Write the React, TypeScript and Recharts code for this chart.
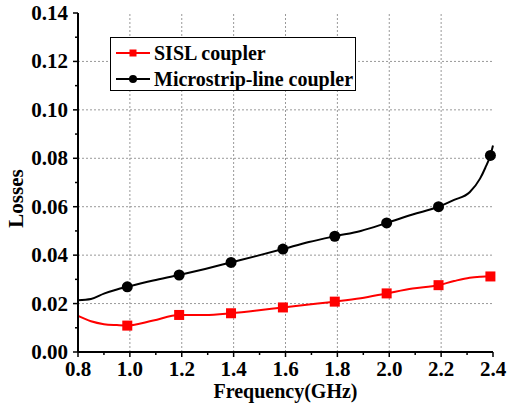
import React from 'react';
import { LineChart, Line, XAxis, YAxis, ReferenceLine } from 'recharts';

// curve sample points (GHz)
const freq = [0.8, 0.85, 0.9, 0.95, 0.99, 1.09, 1.19, 1.29, 1.39, 1.49, 1.59, 1.69, 1.79, 1.89, 1.99, 2.09, 2.19, 2.25, 2.31, 2.35, 2.37, 2.39, 2.4];
const sislLoss = [0.0149, 0.0127, 0.0115, 0.0111, 0.0109, 0.0130, 0.0153, 0.0153, 0.0160, 0.0171, 0.0184, 0.0196, 0.0208, 0.0222, 0.0242, 0.0262, 0.0276, 0.0293, 0.0307, 0.0311, 0.0312, 0.0312, 0.0312];
const microLoss = [0.0214, 0.0219, 0.0241, 0.0258, 0.0269, 0.0295, 0.0318, 0.0343, 0.0370, 0.0397, 0.0425, 0.0454, 0.0478, 0.0500, 0.0533, 0.0568, 0.0600, 0.0628, 0.0660, 0.0716, 0.0760, 0.0812, 0.0853];
const markerFreqs = [0.99, 1.19, 1.39, 1.59, 1.79, 1.99, 2.19, 2.39];

const xTicks = [0.8, 1.0, 1.2, 1.4, 1.6, 1.8, 2.0, 2.2, 2.4];
const xMinorTicks = [0.9, 1.1, 1.3, 1.5, 1.7, 1.9, 2.1, 2.3];
const yTicks = [0, 0.02, 0.04, 0.06, 0.08, 0.1, 0.12, 0.14];
const yMinorTicks = [0.01, 0.03, 0.05, 0.07, 0.09, 0.11, 0.13];

const data = freq.map((f, i) => ({ freq: f, sisl: sislLoss[i], micro: microLoss[i] }));
const xAll = [...xTicks, ...xMinorTicks].sort((a, b) => a - b);
const yAll = [...yTicks, ...yMinorTicks].sort((a, b) => a - b);

const FONT = '"Liberation Serif", "Times New Roman", serif';
const RED = '#ff0000';
const textStyle = { fontFamily: FONT, fontWeight: 'bold' as const };

const BottomTick = (props: any) => {
  const { x, y, payload } = props;
  const major = xTicks.includes(payload.value);
  return (
    <g>
      <line x1={x} x2={x} y1={y} y2={y + (major ? 5 : 3)} stroke="#000" strokeWidth={1.5} />
      {major && (
        <text x={x} y={y + 17} textAnchor="middle" dominantBaseline="central"
          style={textStyle} fontSize={21} fill="#000">
          {payload.value.toFixed(1)}
        </text>
      )}
    </g>
  );
};

const TopTick = (props: any) => {
  const { x, y, payload } = props;
  const major = xTicks.includes(payload.value);
  return <line x1={x} x2={x} y1={y} y2={y + (major ? 5 : 3)} stroke="#000" strokeWidth={1.5} />;
};

const LeftTick = (props: any) => {
  const { x, y, payload } = props;
  const major = yTicks.includes(payload.value);
  return (
    <g>
      <line x1={x} x2={x - (major ? 5 : 3)} y1={y} y2={y} stroke="#000" strokeWidth={1.5} />
      {major && (
        <text x={x - 10} y={y} textAnchor="end" dominantBaseline="central"
          style={textStyle} fontSize={21} fill="#000">
          {payload.value.toFixed(2)}
        </text>
      )}
    </g>
  );
};

const RightTick = (props: any) => {
  const { x, y, payload } = props;
  const major = yTicks.includes(payload.value);
  return <line x1={x} x2={x - (major ? 5 : 3)} y1={y} y2={y} stroke="#000" strokeWidth={1.5} />;
};

const squareDot = (props: any) => {
  const { cx, cy, payload, index } = props;
  if (!markerFreqs.includes(payload.freq)) return <g key={index} />;
  return <rect key={index} x={cx - 5} y={cy - 5} width={10} height={10} fill={RED} />;
};

const circleDot = (props: any) => {
  const { cx, cy, payload, index } = props;
  if (!markerFreqs.includes(payload.freq)) return <g key={index} />;
  return <circle key={index} cx={cx} cy={cy} r={5.5} fill="#000" />;
};

const LegendBox = () => (
  <div style={{
    position: 'absolute', left: 110, top: 37, width: 244, height: 52,
    border: '1px solid #000', background: '#fff', fontFamily: FONT,
    fontWeight: 'bold', fontSize: 20, color: '#000',
  }}>
    {[{ name: 'SISL coupler', color: RED, sq: true }, { name: 'Microstrip-line coupler', color: '#000', sq: false }].map((it, i) => (
      <div key={i} style={{ position: 'absolute', left: 4, top: 4 + i * 26, height: 22, display: 'flex', alignItems: 'center', whiteSpace: 'nowrap' }}>
        <svg width={36} height={14} style={{ marginRight: 3 }}>
          <line x1={1} x2={35} y1={7} y2={7} stroke={it.color} strokeWidth={2} />
          {it.sq ? <rect x={14.5} y={3.5} width={7} height={7} fill={it.color} /> : <circle cx={18} cy={7} r={4} fill={it.color} />}
        </svg>
        <span>{it.name}</span>
      </div>
    ))}
  </div>
);

export default function App() {
  return (
    <div style={{ position: 'absolute', left: 0, top: 0, width: 507, height: 406, background: '#fff' }}>
      <LineChart width={507} height={406} data={data} margin={{ top: 13, right: 14, left: 0, bottom: 0 }}>
        <XAxis dataKey="freq" type="number" domain={[0.8, 2.4]} ticks={xAll} interval={0}
          tickSize={0} tickMargin={0} tickLine={false} tick={<BottomTick />} height={54}
          axisLine={{ stroke: '#000', strokeWidth: 2 }}
          label={{
            content: (p: any) => {
              const vb = p.viewBox;
              return (
                <text x={vb.x + vb.width / 2} y={vb.y + 46} textAnchor="middle"
                  style={textStyle} fontSize={20} fill="#000">Frequency(GHz)</text>
              );
            },
          }} />
        <XAxis xAxisId="top" orientation="top" type="number" domain={[0.8, 2.4]} ticks={xAll} interval={0}
          tickSize={0} tickMargin={0} tickLine={false} tick={<TopTick />} height={0}
          axisLine={{ stroke: '#000', strokeWidth: 2 }} />
        <YAxis type="number" domain={[0, 0.14]} ticks={yAll} interval={0} width={78}
          tickSize={0} tickMargin={0} tickLine={false} tick={<LeftTick />}
          axisLine={{ stroke: '#000', strokeWidth: 2 }}
          label={{
            content: (p: any) => {
              const vb = p.viewBox;
              const cx = vb.x + 16;
              const cy = vb.y + vb.height / 2 + 16;
              return (
                <text x={cx} y={cy} transform={`rotate(-90, ${cx}, ${cy})`} textAnchor="middle" dominantBaseline="central"
                  style={textStyle} fontSize={21} fill="#000">Losses</text>
              );
            },
          }} />
        <YAxis yAxisId="right" orientation="right" type="number" domain={[0, 0.14]} ticks={yAll} interval={0} width={0}
          tickSize={0} tickMargin={0} tickLine={false} tick={<RightTick />}
          axisLine={{ stroke: '#000', strokeWidth: 2 }} />
        {xTicks.slice(1, -1).map((v) => (
          <ReferenceLine key={'gx' + v} x={v} stroke="#999" strokeWidth={1} strokeDasharray="2 2" />
        ))}
        {yTicks.slice(1, -1).map((v) => (
          <ReferenceLine key={'gy' + v} y={v} stroke="#999" strokeWidth={1} strokeDasharray="2 2" />
        ))}
        <Line dataKey="sisl" type="monotone" stroke={RED} strokeWidth={2} dot={squareDot} activeDot={false} isAnimationActive={false} />
        <Line dataKey="micro" type="monotone" stroke="#000" strokeWidth={2} dot={circleDot} activeDot={false} isAnimationActive={false} />
      </LineChart>
      <LegendBox />
    </div>
  );
}
